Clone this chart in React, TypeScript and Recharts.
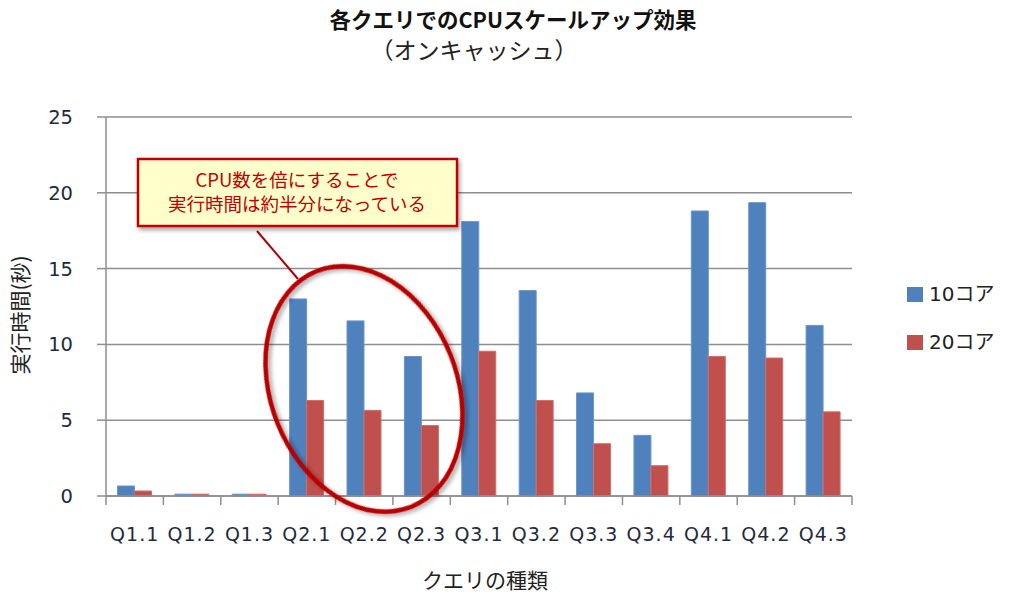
import React from 'react';
import { BarChart, Bar, XAxis, YAxis, CartesianGrid } from 'recharts';

const categories = ['Q1.1', 'Q1.2', 'Q1.3', 'Q2.1', 'Q2.2', 'Q2.3', 'Q3.1', 'Q3.2', 'Q3.3', 'Q3.4', 'Q4.1', 'Q4.2', 'Q4.3'];
const cores10 = [0.66, 0.12, 0.12, 13.0, 11.55, 9.2, 18.1, 13.55, 6.8, 4.0, 18.8, 19.35, 11.25];
const cores20 = [0.33, 0.12, 0.12, 6.3, 5.65, 4.65, 9.55, 6.3, 3.45, 2.0, 9.2, 9.1, 5.55];
const seriesNames = ['10コア', '20コア'];
const seriesColors = ['#4F81BD', '#C0504D'];
const yTicks = [0, 5, 10, 15, 20, 25];

const W = 1024;
const H = 605;
const PLOT_LEFT = 106;
const PLOT_RIGHT = 852;
const PLOT_TOP = 117;
const PLOT_BOTTOM = 496;
const GRID = '#8e8e8e';
const LATIN = "'DejaVu Sans', 'Noto Sans CJK JP', sans-serif";
const CJK = "'Noto Sans CJK JP', sans-serif";

const chartData = categories.map((name, i) => ({ name, c10: cores10[i], c20: cores20[i] }));

const band = (PLOT_RIGHT - PLOT_LEFT) / categories.length;

// Excel-style ticks sit between categories, so draw them at the band edges
const XTick = (props: any) => {
  const { x, y, payload, index } = props;
  const left = x - band / 2;
  return (
    <g>
      <line x1={left} y1={y} x2={left} y2={y + 9} stroke={GRID} strokeWidth={1.5} />
      {index === categories.length - 1 && (
        <line x1={x + band / 2} y1={y} x2={x + band / 2} y2={y + 9} stroke={GRID} strokeWidth={1.5} />
      )}
      <text x={x} y={y + 45} textAnchor="middle" fill="#1f2a3a" fontSize={19} fontFamily={LATIN} letterSpacing={1}>
        {payload.value}
      </text>
    </g>
  );
};

const Overlay = () => (
  <svg width={W} height={H} style={{ position: 'absolute', left: 0, top: 0, pointerEvents: 'none' }}>
    <defs>
      <filter id="shadow" x="-20%" y="-20%" width="140%" height="140%">
        <feDropShadow dx="2" dy="3" stdDeviation="2" floodColor="#000" floodOpacity="0.35" />
      </filter>
    </defs>
    <text x={513} y={28} textAnchor="middle" fontSize={21.5} fontWeight={700} fontFamily={CJK} fill="#111">
      各クエリでのCPUスケールアップ効果
    </text>
    <text x={474} y={59} textAnchor="middle" fontSize={23} fontFamily={CJK} fill="#222">
      （オンキャッシュ）
    </text>
    <text
      x={22}
      y={315}
      textAnchor="middle"
      fontSize={21}
      fontFamily={CJK}
      fill="#222"
      transform="rotate(-90 22 315)"
      dominantBaseline="middle"
    >
      実行時間(秒)
    </text>
    <text x={485} y={588} textAnchor="middle" fontSize={21} fontFamily={CJK} fill="#222">
      クエリの種類
    </text>

    {seriesNames.map((name, i) => (
      <g key={name}>
        <rect x={907} y={287 + i * 48} width={16} height={15} fill={seriesColors[i]} />
        <text x={929} y={301 + i * 48} fontSize={20} fontFamily={LATIN} fill="#222">
          {name}
        </text>
      </g>
    ))}

    <line x1={257} y1={231} x2={298} y2={279} stroke="#B00000" strokeWidth={2} />
    <ellipse
      cx={364}
      cy={389}
      rx={93}
      ry={127}
      transform="rotate(-22 364 389)"
      fill="none"
      stroke="#B80000"
      strokeWidth={4.5}
      filter="url(#shadow)"
    />
    <rect x={138} y={159} width={319} height={67} fill="#FFFFCC" stroke="#C00000" strokeWidth={2.5} filter="url(#shadow)" />
    <text x={297} y={187} textAnchor="middle" fontSize={18.5} fontFamily={CJK} fill="#C00000">
      CPU数を倍にすることで
    </text>
    <text x={297} y={211} textAnchor="middle" fontSize={18.5} fontFamily={CJK} fill="#C00000">
      実行時間は約半分になっている
    </text>
  </svg>
);

export default function App() {
  return (
    <div style={{ position: 'absolute', left: 0, top: 0, width: W, height: H, background: '#fff' }}>
      <BarChart
        width={W}
        height={H}
        data={chartData}
        margin={{ top: PLOT_TOP, right: W - PLOT_RIGHT, bottom: 69, left: 0 }}
        barCategoryGap="20%"
        barGap={0}
      >
        <CartesianGrid vertical={false} stroke={GRID} strokeWidth={1.5} />
        <XAxis
          dataKey="name"
          height={H - PLOT_BOTTOM - 69}
          interval={0}
          tickLine={false}
          tickSize={0}
          tickMargin={0}
          axisLine={{ stroke: GRID, strokeWidth: 1.5 }}
          tick={<XTick />}
        />
        <YAxis
          width={PLOT_LEFT}
          domain={[0, 25]}
          ticks={yTicks}
          interval={0}
          tickSize={9}
          tickMargin={24}
          axisLine={{ stroke: GRID, strokeWidth: 1.5 }}
          tickLine={{ stroke: GRID, strokeWidth: 1.5 }}
          tick={{ fill: '#1f2a3a', fontSize: 19.5, fontFamily: LATIN }}
        />
        <Bar dataKey="c10" name={seriesNames[0]} fill={seriesColors[0]} stroke="#6a95cc" strokeWidth={1} isAnimationActive={false} />
        <Bar dataKey="c20" name={seriesNames[1]} fill={seriesColors[1]} stroke="#cf6e6b" strokeWidth={1} isAnimationActive={false} />
      </BarChart>
      <Overlay />
    </div>
  );
}
